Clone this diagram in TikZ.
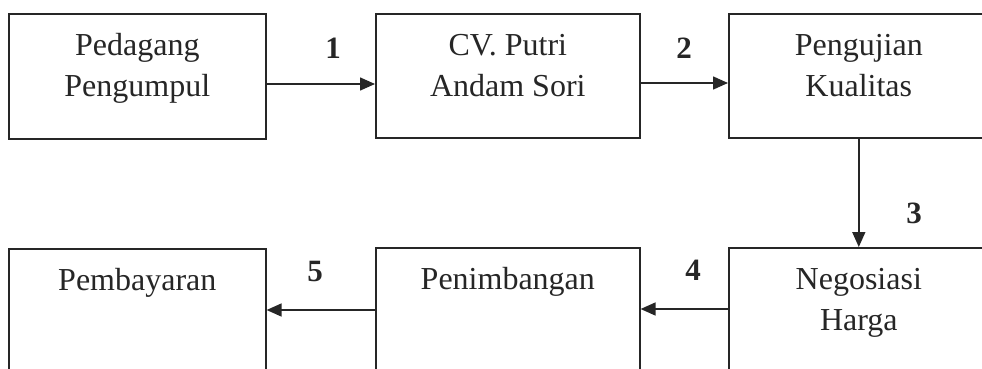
\documentclass[tikz,border=0pt]{standalone}
\usepackage{fontspec}
\setmainfont{Liberation Serif}
\usetikzlibrary{arrows.meta}
\definecolor{ink}{HTML}{262626}
\tikzset{
  box/.style={draw=ink, line width=1.6pt, inner sep=0pt, anchor=north west, text=ink},
  arr/.style={draw=ink, line width=1.5pt, -{Triangle[length=15pt,width=13pt]}},
  num/.style={text=ink, font=\fontsize{31}{31}\selectfont\bfseries, inner sep=0pt}
}
\newcommand{\boxtext}[3]{\parbox[c][#1][t]{#2}{\centering\fontsize{32}{41}\selectfont\rule{0pt}{42pt}#3\par}}
\begin{document}
\begin{tikzpicture}[x=1pt,y=-1pt]
\useasboundingbox (0,0) rectangle (982,369);
\clip (0,0) rectangle (982,369);
\fill[white] (0,0) rectangle (982,369);
% top row
\node[box] (b1) at (8,13) {\boxtext{125pt}{257pt}{Pedagang\\Pengumpul}};
\node[box] (b2) at (375,13) {\boxtext{124pt}{264pt}{CV. Putri\\Andam Sori}};
\node[box] (b3) at (728,13) {\boxtext{124pt}{260pt}{Pengujian\\Kualitas}};
% bottom row
\node[box] (b4) at (728,247) {\boxtext{180pt}{260pt}{Negosiasi\\Harga}};
\node[box] (b5) at (375,247) {\boxtext{180pt}{264pt}{Penimbangan}};
\node[box] (b6) at (8,248) {\boxtext{180pt}{257pt}{Pembayaran}};
% connector heights
\coordinate (r1) at (0,84);
\coordinate (r2) at (0,83);
\coordinate (r4) at (0,309);
\coordinate (r5) at (0,310);
\draw[arr] (b1.east |- r1) -- (b2.west |- r1);
\draw[arr] (b2.east |- r2) -- (b3.west |- r2);
\draw[arr] (b3.south) -- (b3.south |- b4.north);
\draw[arr] (b4.west |- r4) -- (b5.east |- r4);
\draw[arr] (b5.west |- r5) -- (b6.east |- r5);
% labels
\node[num] (n1) at (333,48) {1};
\node[num] (n2) at (684,48) {2};
\node[num] (n3) at (914,213) {3};
\node[num] (n4) at (693,270) {4};
\node[num] (n5) at (315,271) {5};
\end{tikzpicture}
\end{document}
